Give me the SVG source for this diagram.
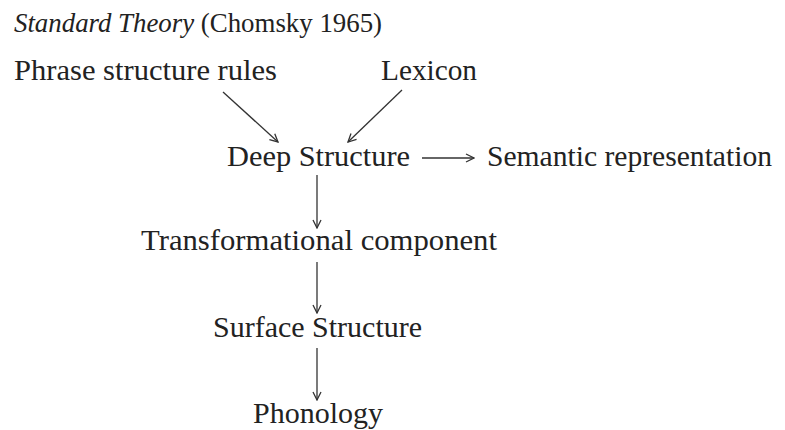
<svg xmlns="http://www.w3.org/2000/svg" width="785" height="430" viewBox="0 0 785 430">
  <style>
    text { font-family: "Liberation Serif", "Times New Roman", serif; font-size: 30px; fill: #222; }
    .title { font-size: 27px; }
    .it { font-style: italic; }
    .edge { stroke: #333; stroke-width: 1.3; fill: none; marker-end: url(#arrow); }
  </style>
  <defs>
    <marker id="arrow" viewBox="0 0 10 10" refX="9" refY="5" markerWidth="10" markerHeight="10" markerUnits="userSpaceOnUse" orient="auto">
      <path d="M1,1 L9,5 L1,9" fill="none" stroke="#333" stroke-width="1.3"/>
    </marker>
  </defs>
  <rect width="785" height="430" fill="#fff"/>

  <g id="title">
    <text class="title" x="14" y="32" textLength="368" lengthAdjust="spacingAndGlyphs"><tspan class="it">Standard Theory</tspan> (Chomsky 1965)</text>
  </g>
  <g id="phrase-structure-rules">
    <text x="14" y="80" textLength="263" lengthAdjust="spacingAndGlyphs">Phrase structure rules</text>
  </g>
  <g id="lexicon">
    <text x="381" y="80" textLength="96" lengthAdjust="spacingAndGlyphs">Lexicon</text>
  </g>
  <g id="deep-structure">
    <text x="227" y="166" textLength="183" lengthAdjust="spacingAndGlyphs">Deep Structure</text>
  </g>
  <g id="semantic-representation">
    <text x="487" y="166" textLength="285" lengthAdjust="spacingAndGlyphs">Semantic representation</text>
  </g>
  <g id="transformational-component">
    <text x="141" y="250" textLength="356" lengthAdjust="spacingAndGlyphs">Transformational component</text>
  </g>
  <g id="surface-structure">
    <text x="213" y="337" textLength="209" lengthAdjust="spacingAndGlyphs">Surface Structure</text>
  </g>
  <g id="phonology">
    <text x="253" y="423" textLength="130" lengthAdjust="spacingAndGlyphs">Phonology</text>
  </g>

  <g id="connectors">
    <line class="edge" x1="223" y1="92" x2="278" y2="142"/>
    <line class="edge" x1="402" y1="90" x2="348" y2="142"/>
    <line class="edge" x1="422" y1="158" x2="474" y2="158"/>
    <line class="edge" x1="317" y1="175" x2="317" y2="228"/>
    <line class="edge" x1="317" y1="262" x2="317" y2="313"/>
    <line class="edge" x1="317" y1="348" x2="317" y2="400"/>
  </g>
</svg>
